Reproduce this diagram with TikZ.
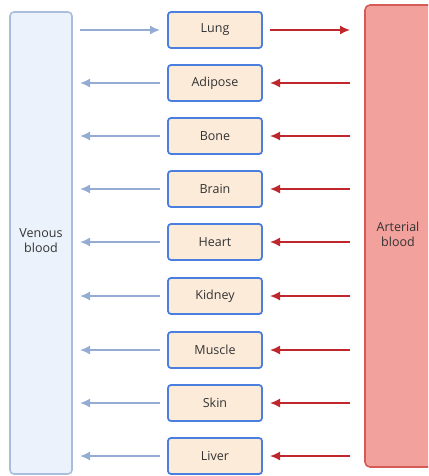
\documentclass[tikz,border=0pt]{standalone}
\usepackage{fontspec}
\setmainfont{Open Sans}
\usetikzlibrary{arrows.meta}
\definecolor{venfill}{HTML}{EBF2FB}
\definecolor{vendraw}{HTML}{A9BEDD}
\definecolor{artfill}{HTML}{F2A19C}
\definecolor{artdraw}{HTML}{D65A55}
\definecolor{orgfill}{HTML}{FCEBD9}
\definecolor{orgdraw}{HTML}{4A7FE0}
\definecolor{bluearr}{HTML}{94ACD4}
\definecolor{redarr}{HTML}{C0272D}
\begin{document}
\begin{tikzpicture}[x=1pt,y=-1pt,
  organ/.style={draw=orgdraw,fill=orgfill,line width=1.8pt,rounded corners=3pt,minimum width=94pt,minimum height=36pt,inner sep=0pt,font=\fontsize{12.5}{14}\selectfont,text=black!80},
  barr/.style={draw=bluearr,line width=1.6pt,-{Latex[length=10pt,width=9pt]}},
  rarr/.style={draw=redarr,line width=1.6pt,-{Latex[length=10pt,width=9pt]}},
  blood/.style={font=\fontsize{12.5}{15}\selectfont,align=center,text=black!80,inner sep=0pt}]
\useasboundingbox (0,0) rectangle (428,476);
\begin{scope}
\clip (0,0) rectangle (428,476);
\draw[draw=vendraw,fill=venfill,line width=1.6pt,rounded corners=4pt] (10,12) rectangle (72,474);
\draw[draw=artdraw,fill=artfill,line width=1.6pt,rounded corners=5pt] (365,5) rectangle (445,467);
\end{scope}
\node[blood] (ven) at (41,241) {Venous\\blood};
\node[blood] (art) at (398,234) {Arterial\\blood};
\foreach \n/\t/\y in {lung/Lung/30,adipose/Adipose/83,bone/Bone/136,brain/Brain/189,heart/Heart/242,kidney/Kidney/296,muscle/Muscle/350,skin/Skin/403,liver/Liver/456}{
  \node[organ] (\n) at (215,\y) {\t};
  \coordinate (vl\n) at (80,\y);
  \coordinate (vr\n) at (160,\y);
  \coordinate (al\n) at (270,\y);
  \coordinate (ar\n) at (350,\y);
}
\draw[barr] (vllung) -- (vrlung);
\draw[rarr] (allung) -- (arlung);
\foreach \n in {adipose,bone,brain,heart,kidney,muscle,skin,liver}{
  \draw[barr] (vr\n) -- (vl\n);
  \draw[rarr] (ar\n) -- (al\n);
}
\end{tikzpicture}
\end{document}
